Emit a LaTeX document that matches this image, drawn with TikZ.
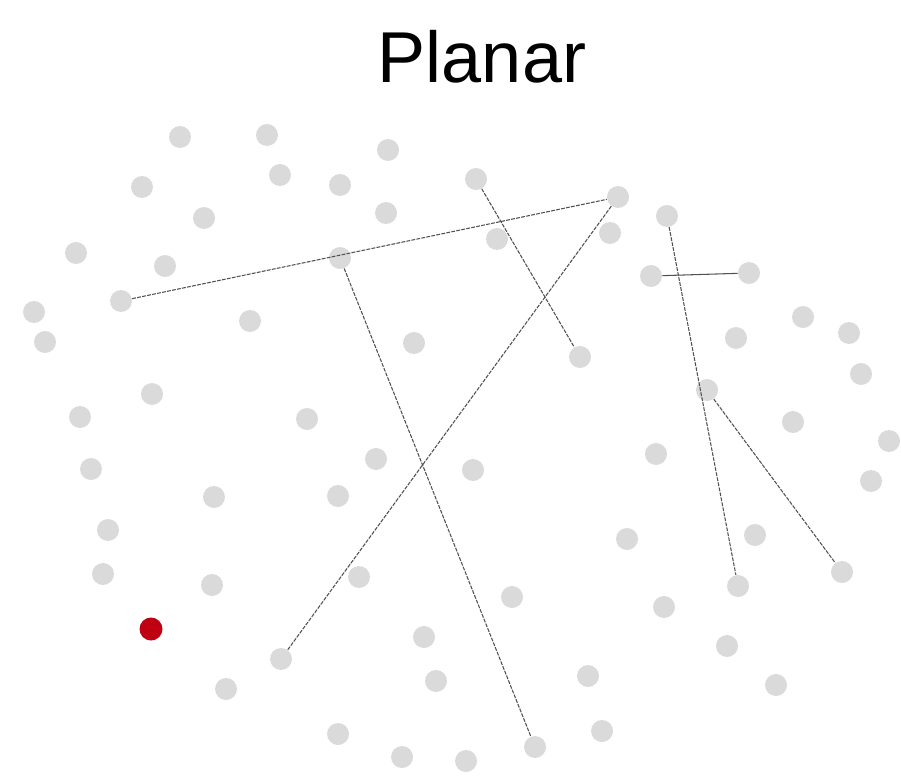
\documentclass[tikz,border=0pt]{standalone}
\usepackage{fontspec}
\setmainfont{Liberation Sans}
\definecolor{dotgray}{RGB}{218,218,218}
\definecolor{seedred}{RGB}{190,0,18}
\definecolor{edgegray}{RGB}{80,80,80}
\tikzset{
  vtx/.style={circle, fill=dotgray, inner sep=0pt, minimum size=0.44cm},
  seedvtx/.style={circle, fill=seedred, inner sep=0pt, minimum size=0.46cm},
  link/.style={edgegray, line width=0.6pt, dash pattern=on 2.2pt off 0.7pt},
  solidlink/.style={edgegray, line width=0.6pt}
}
\begin{document}
\begin{tikzpicture}[x=0.02cm, y=-0.02cm]
    % Frame
    \useasboundingbox (0,0) rectangle (901,780);

    % Title
    \node[anchor=base, font=\fontsize{41}{49}\selectfont] (title) at (482,83) {Planar};

    % Points of the layout
    \foreach \px/\py [count=\i] in {180/137, 267/135, 388/150, 142/187, 280/175,
        340/185, 476/179, 618/197, 667/216, 204/218, 386/213, 497/239, 610/233,
        76/253, 165/266, 340/258, 651/276, 749/273, 34/312, 121/301, 250/321,
        45/342, 414/343, 580/357, 736/338, 803/317, 849/333, 861/374, 152/394,
        707/390, 80/417, 307/419, 793/422, 889/441, 91/469, 376/459, 473/470,
        656/454, 871/481, 214/497, 338/496, 108/530, 627/539, 755/535, 103/574,
        212/585, 359/577, 512/597, 738/586, 842/572, 664/607, 424/637, 281/659,
        727/646, 226/689, 436/681, 588/676, 776/685, 338/734, 402/757, 466/761,
        535/747, 602/731}
        \node[vtx] (v\i) at (\px,\py) {};

    % Highlighted point
    \node[seedvtx] (seed) at (151,629) {};

    % Edges
    \draw[link] (v20) -- (v8);
    \draw[link] (v16) -- (v62);
    \draw[link] (v8) -- (v53);
    \draw[link] (v7) -- (v24);
    \draw[link] (v9) -- (v49);
    \draw[solidlink] (v17) -- (v18);
    \draw[link] (v30) -- (v50);
\end{tikzpicture}
\end{document}
